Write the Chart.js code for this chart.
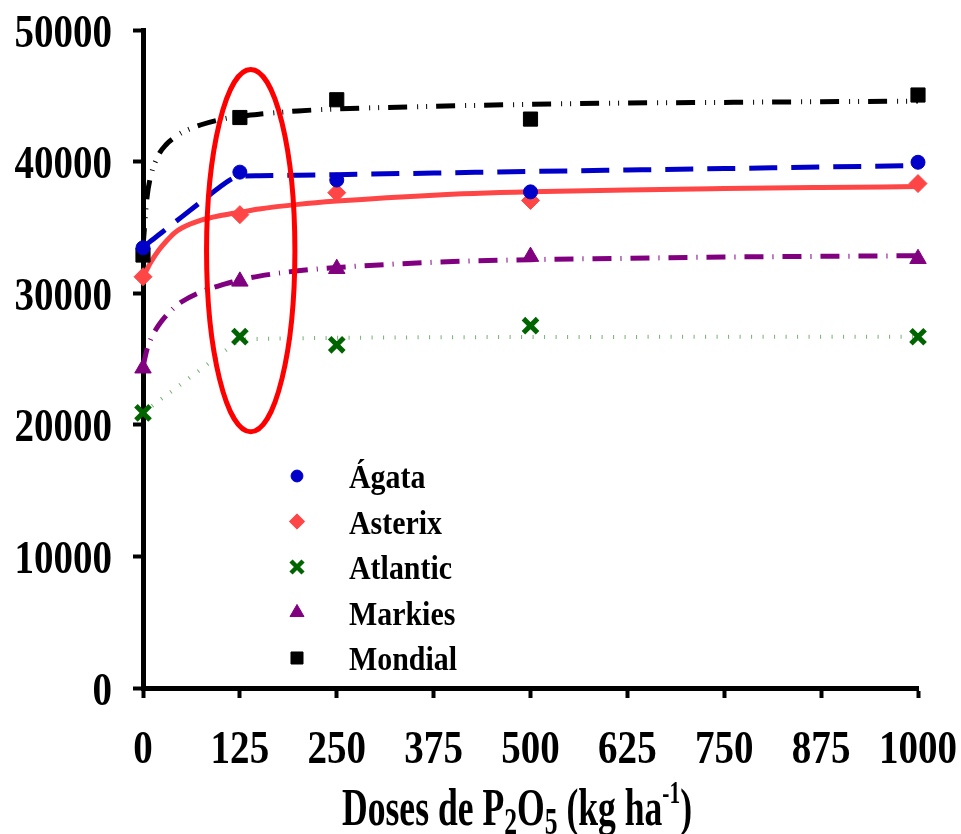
<!DOCTYPE html>
<html lang="pt">

<head>
    <meta charset="UTF-8">
    <title>Produtividade x Doses de P2O5</title>
    <script src="https://cdn.jsdelivr.net/npm/chart.js"></script>
    <style>
        body { margin: 0; background: #fff; }
        canvas { display: block; }
    </style>
</head>

<body>
    <canvas id="doses_chart" width="961" height="834"></canvas>
    <script>
        // Doses applied (kg ha-1) and measured values for each cultivar
        const doses = [0, 125, 250, 500, 1000];
        const agata = [33450, 39200, 38600, 37700, 39950];
        const asterix = [31250, 35970, 37640, 37050, 38330];
        const atlantic = [20910, 26700, 26080, 27530, 26690];
        const markies = [24300, 30900, 31860, 32780, 32620];
        const mondial = [32900, 43350, 44700, 43230, 45060];

        // Fitted response curves, read at these doses
        const curveDoses = [0, 5, 10, 20, 30, 40, 50, 75, 100, 115, 125, 150, 200, 250, 375, 500, 625, 750, 875, 1000];
        const agataFit = [33500, 33730, 33960, 34420, 34880, 35340, 35800, 36950, 38100, 38700, 38880, 38920, 38970, 39010, 39130, 39250, 39360, 39470, 39590, 39700];
        const asterixFit = [31250, 31800, 32350, 33250, 33950, 34550, 34950, 35550, 35900, 36050, 36150, 36400, 36750, 37000, 37450, 37700, 37850, 37950, 38030, 38100];
        const atlanticFit = [20900, 21120, 21350, 21800, 22240, 22680, 23130, 24240, 25360, 26020, 26430, 26530, 26580, 26610, 26650, 26670, 26680, 26690, 26700, 26700];
        const markiesFit = [24400, 25700, 26500, 27550, 28300, 28900, 29350, 30100, 30600, 30850, 31000, 31300, 31700, 31950, 32350, 32550, 32650, 32750, 32800, 32850];
        const mondialFit = [33500, 37200, 38900, 40500, 41300, 41800, 42200, 42800, 43200, 43370, 43450, 43600, 43850, 44000, 44200, 44350, 44450, 44500, 44550, 44600];

        const xTicks = [0, 125, 250, 375, 500, 625, 750, 875, 1000];
        const yTicks = [0, 10000, 20000, 30000, 40000, 50000];

        // highlighted region around the 125 kg ha-1 dose
        const highlightDose = [82, 196];
        const highlightYield = [19470, 47000];

        const cultivars = [
            { name: 'Ágata', values: agata, fit: agataFit, color: '#0000c8', style: 'circle', radius: 7, dash: [28, 14], width: 5 },
            { name: 'Asterix', values: asterix, fit: asterixFit, color: '#ff4646', style: 'rectRot', radius: 9, dash: [], width: 5 },
            { name: 'Atlantic', values: atlantic, fit: atlanticFit, color: '#006400', style: 'crossRot', radius: 10, dash: [1, 10.5], width: 4, lineColor: 'rgba(0, 110, 0, 0.55)' },
            { name: 'Markies', values: markies, fit: markiesFit, color: '#800080', style: 'triangle', radius: 9.5, dash: [19, 9, 1, 9], width: 5 },
            { name: 'Mondial', values: mondial, fit: mondialFit, color: '#000000', style: 'rect', radius: 10, dash: [19, 10, 1, 8, 1, 9], width: 5 }
        ];

        const serif = '"Liberation Serif", "Times New Roman", serif';

        const datasets = [];
        cultivars.forEach(c => {
            datasets.push({
                label: c.name,
                data: doses.map((d, i) => ({ x: d, y: c.values[i] })),
                showLine: false,
                pointStyle: c.style,
                pointRadius: c.radius,
                pointBackgroundColor: c.color,
                pointBorderColor: c.color,
                pointBorderWidth: c.style === 'crossRot' ? 5 : 1,
                order: 0,
                clip: false
            });
            datasets.push({
                label: c.name + ' ajuste',
                data: curveDoses.map((d, i) => ({ x: d, y: c.fit[i] })),
                showLine: true,
                pointRadius: 0,
                borderColor: c.lineColor || c.color,
                borderWidth: c.width,
                borderDash: c.dash,
                borderCapStyle: 'butt',
                cubicInterpolationMode: 'monotone',
                order: 1,
                clip: false
            });
        });

        // draws text squeezed horizontally
        function narrowText(ctx, text, x, y, sx, align) {
            const w = ctx.measureText(text).width * sx;
            const left = align === 'right' ? x - w : align === 'center' ? x - w / 2 : x;
            ctx.save();
            ctx.translate(left, y);
            ctx.scale(sx, 1);
            ctx.textAlign = 'left';
            ctx.fillText(text, 0, 0);
            ctx.restore();
            return w;
        }

        const labelsPlugin = {
            id: 'labelsPlugin',
            afterDraw(chart) {
                const ctx = chart.ctx;
                const xs = chart.scales.x;
                const ys = chart.scales.y;
                const area = chart.chartArea;
                ctx.save();
                ctx.fillStyle = '#000';
                ctx.textBaseline = 'alphabetic';

                // tick labels
                ctx.font = 'bold 47px ' + serif;
                yTicks.forEach(v => {
                    narrowText(ctx, String(v), area.left - 31, ys.getPixelForValue(v) + 16.5, 0.83, 'right');
                });
                xTicks.forEach(v => {
                    narrowText(ctx, String(v), xs.getPixelForValue(v), area.bottom + 75, 0.83, 'center');
                });

                // axis title with sub/superscripts
                const em = 52;
                const runs = [
                    { t: 'Doses de P', k: 1, dy: 0 },
                    { t: '2', k: 0.72, dy: 9 },
                    { t: 'O', k: 1, dy: 0 },
                    { t: '5', k: 0.72, dy: 9 },
                    { t: ' (kg ha', k: 1, dy: 0 },
                    { t: '-1', k: 0.6, dy: -22 },
                    { t: ')', k: 1, dy: 0 }
                ];
                let total = 0;
                runs.forEach(r => {
                    ctx.font = 'bold ' + (em * r.k) + 'px ' + serif;
                    r.w = ctx.measureText(r.t).width;
                    total += r.w;
                });
                const sx = 350 / total;
                let tx = area.left + 374 - 175;
                const base = area.bottom + 137;
                runs.forEach(r => {
                    ctx.font = 'bold ' + (em * r.k) + 'px ' + serif;
                    tx += narrowText(ctx, r.t, tx, base + r.dy, sx, 'left');
                });

                // legend
                const lx = area.left + 154;
                const ly = area.top + 446;
                cultivars.forEach((c, i) => {
                    const y = ly + i * 45.5;
                    ctx.fillStyle = c.color;
                    ctx.strokeStyle = c.color;
                    ctx.lineWidth = c.style === 'crossRot' ? 4.5 : 1;
                    Chart.helpers.drawPoint(ctx, {
                        pointStyle: c.style,
                        radius: c.radius * 0.85,
                        borderWidth: ctx.lineWidth,
                        rotation: 0
                    }, lx, y);
                    ctx.fillStyle = '#000';
                    ctx.font = 'bold 34px ' + serif;
                    narrowText(ctx, c.name, lx + 52, y + 12, 0.88, 'left');
                });
                ctx.restore();
            }
        };

        const ellipsePlugin = {
            id: 'ellipsePlugin',
            afterDatasetsDraw(chart) {
                const ctx = chart.ctx;
                const xs = chart.scales.x;
                const ys = chart.scales.y;
                const x0 = xs.getPixelForValue(highlightDose[0]);
                const x1 = xs.getPixelForValue(highlightDose[1]);
                const y0 = ys.getPixelForValue(highlightYield[1]);
                const y1 = ys.getPixelForValue(highlightYield[0]);
                ctx.save();
                ctx.beginPath();
                ctx.ellipse((x0 + x1) / 2, (y0 + y1) / 2, (x1 - x0) / 2, (y1 - y0) / 2, 0, 0, Math.PI * 2);
                ctx.strokeStyle = '#ff0000';
                ctx.lineWidth = 5;
                ctx.stroke();
                ctx.restore();
            }
        };

        const axisGrid = {
            display: true,
            drawOnChartArea: false,
            drawTicks: true,
            tickLength: 10,
            tickWidth: 4,
            tickColor: '#000'
        };

        const chart = new Chart(document.getElementById('doses_chart'), {
            type: 'scatter',
            data: { datasets: datasets },
            options: {
                responsive: false,
                devicePixelRatio: 1,
                animation: false,
                layout: {
                    autoPadding: false,
                    padding: { left: 133, right: 43, top: 30, bottom: 136 }
                },
                scales: {
                    x: {
                        type: 'linear',
                        min: 0,
                        max: 1000,
                        afterBuildTicks: s => { s.ticks = xTicks.map(v => ({ value: v })); },
                        ticks: { display: false },
                        grid: axisGrid,
                        border: { display: true, color: '#000', width: 5 }
                    },
                    y: {
                        min: 0,
                        max: 50000,
                        afterBuildTicks: s => { s.ticks = yTicks.map(v => ({ value: v })); },
                        ticks: { display: false },
                        grid: axisGrid,
                        border: { display: true, color: '#000', width: 5 }
                    }
                },
                plugins: {
                    legend: { display: false },
                    tooltip: { enabled: false }
                }
            },
            plugins: [ellipsePlugin, labelsPlugin]
        });
    </script>
</body>

</html>
